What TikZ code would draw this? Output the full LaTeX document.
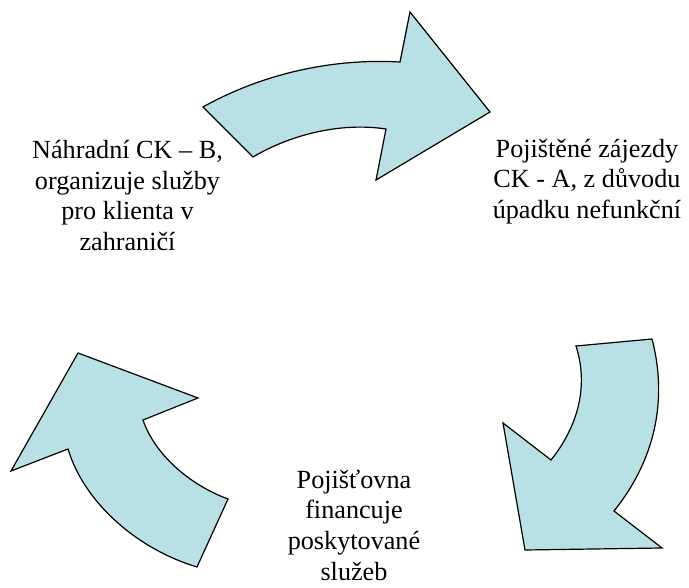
\documentclass[tikz,border=0pt]{standalone}
\usepackage{fontspec}
\setmainfont{Liberation Serif}
\newfontfamily\captionserif{Liberation Serif}
\definecolor{arrowfill}{RGB}{185,224,228}
\tikzset{
  bentarrow/.style={draw=black, fill=arrowfill, line width=1.2pt, line join=miter},
  textblock/.style={align=center, inner sep=0pt, anchor=base,
    font=\captionserif\fontsize{26.2}{30.6}\selectfont}
}
\begin{document}
\begin{tikzpicture}[x=1pt, y=-1pt]
\useasboundingbox (0,0) rectangle (689,588);

% upper arrow, pointing right
\path[bentarrow] (203,107) .. controls (260,75) and (330,58) .. (400,62)
  -- (410,12) -- (490,112) -- (376,180) -- (386,129)
  .. controls (340,122) and (290,135) .. (253,157) -- cycle;

% right arrow, pointing down
\path[bentarrow] (576,346) -- (652,339)
  .. controls (668,400) and (655,460) .. (614,511)
  -- (662,548) -- (525,550) -- (503,423) -- (551,460)
  .. controls (575,430) and (590,390) .. (576,346) -- cycle;

% left arrow, pointing up
\path[bentarrow] (78,353) -- (198,398) -- (143,420)
  .. controls (155,455) and (190,485) .. (228,499)
  -- (197,567) .. controls (140,550) and (85,505) .. (68,449)
  -- (11,471) -- cycle;

% captions, each placed by the baseline of its last line
\node[textblock] (textB) at (127.5,250.5) {Náhradní CK – B,\\organizuje služby\\pro klienta v\\zahraničí};
\node[textblock] (textA) at (587,218.5) {Pojištěné zájezdy\\CK - A, z důvodu\\úpadku nefunkční};
\node[textblock] (textP) at (354,580) {Pojišťovna\\financuje\\poskytované\\služeb};
\end{tikzpicture}
\end{document}
